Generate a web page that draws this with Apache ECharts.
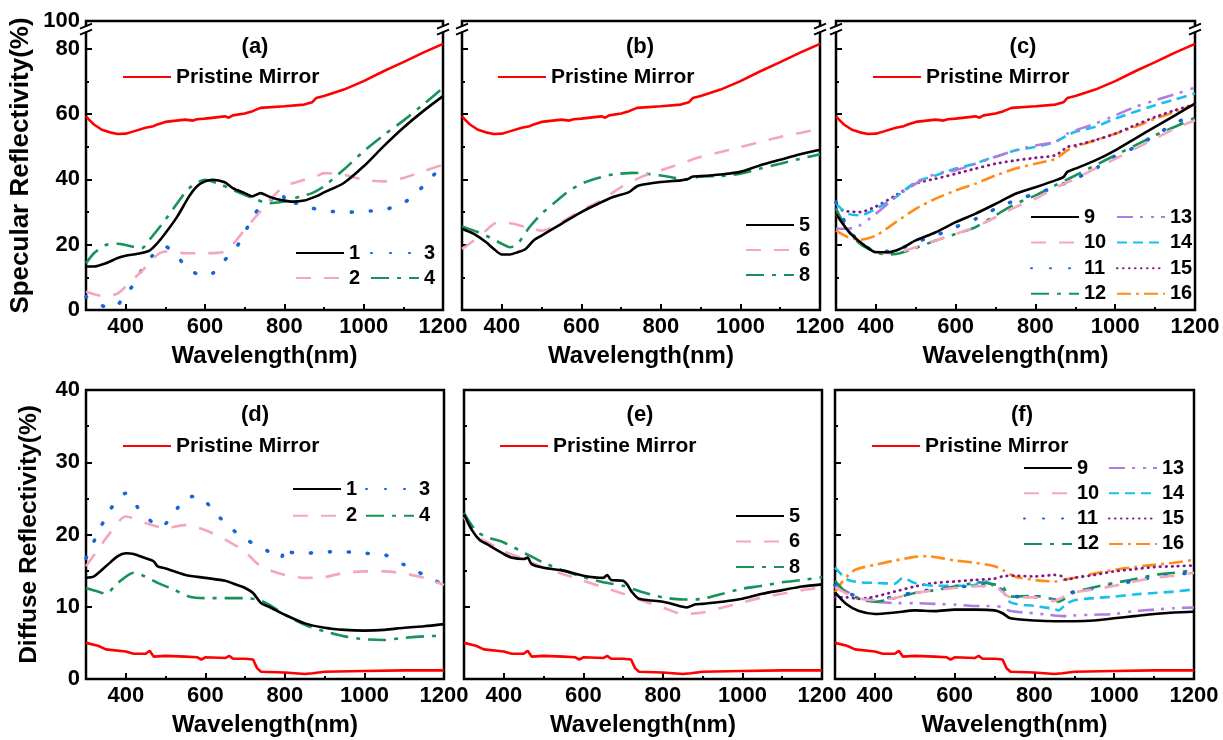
<!DOCTYPE html>
<html><head><meta charset="utf-8">
<script src="https://cdn.jsdelivr.net/npm/echarts@6/dist/echarts.min.js"></script>
<style>html,body{margin:0;padding:0;background:#fff}#c{width:1223px;height:740px}</style>
</head><body><div id="c"></div><script>
// ---------- DATA (wavelength nm, reflectivity %) ----------
const XTICKS = [400, 600, 800, 1000, 1200];
const XMINOR = [500, 700, 900, 1100];

const PS = [[300,59.3],[310,58.0],[320,56.8],[340,55.2],[360,54.4],[380,53.9],[400,54.0],[420,54.7],[450,55.8],[470,56.3],[480,56.8],[500,57.6],[550,58.3],[570,58.0],[580,58.4],[600,58.6],[650,59.3],[660,58.9],[670,59.6],[700,60.2],[720,60.9],[740,61.9],[800,62.4],[850,62.9],[870,63.6],[880,64.9],[900,65.5],[950,67.5],[1000,70.1],[1050,73.1],[1100,75.9],[1150,78.8],[1200,81.5]];
const PD = [[300,5.0],[330,4.6],[350,4.1],[400,3.8],[420,3.5],[450,3.5],[460,3.9],[470,3.1],[500,3.2],[550,3.1],[580,3.0],[590,2.7],[600,3.0],[650,2.9],[660,3.2],[670,2.8],[700,2.8],[720,2.7],[730,1.5],[740,1.0],[800,0.9],[850,0.7],[870,0.8],[900,1.0],[1000,1.1],[1100,1.2],[1200,1.2]];

const A1 = [[300,13.3],[320,13.3],[350,14.3],[380,15.9],[400,16.6],[430,17.2],[460,18.2],[480,20.5],[500,23.5],[530,28.6],[560,34.8],[580,37.9],[600,39.4],[620,39.9],[650,39.1],[670,37.3],[700,35.8],[720,34.8],[740,35.8],[760,34.8],[780,34.0],[800,33.5],[820,33.2],[850,33.5],[880,34.8],[900,36.0],[950,38.9],[1000,44.0],[1050,50.1],[1100,55.8],[1150,60.9],[1200,65.5]];
const A2 = [[300,5.6],[350,4.1],[380,5.1],[400,7.2],[430,10.7],[460,14.3],[480,16.9],[500,17.9],[550,17.4],[600,17.4],[650,17.9],[680,21.5],[700,24.6],[750,31.7],[780,35.8],[800,37.9],[850,39.9],[880,40.9],[900,41.9],[950,41.4],[1000,39.9],[1050,39.4],[1100,40.4],[1150,42.5],[1200,44.5]];
const A3 = [[300,4.1],[330,2.0],[360,0.5],[380,1.5],[400,5.1],[420,7.7],[450,14.3],[470,16.9],[500,19.4],[530,16.4],[560,12.3],[600,10.4],[620,11.3],[650,15.3],[680,19.4],[700,23.5],[720,28.6],[750,32.7],[780,34.8],[790,36.3],[800,34.3],[810,31.7],[830,32.7],[850,32.2],[870,31.2],[900,30.5],[950,29.9],[1000,30.2],[1050,30.7],[1100,32.7],[1150,37.9],[1200,44.5]];
const A4 = [[300,14.3],[320,17.4],[350,19.9],[380,20.3],[400,19.9],[440,18.9],[460,21.5],[500,27.6],[530,32.7],[560,37.3],[600,39.9],[640,38.4],[680,36.3],[720,34.3],[760,32.7],[800,33.2],[840,34.8],[870,35.8],[900,37.9],[950,43.0],[1000,48.6],[1050,53.5],[1100,58.0],[1150,62.9],[1200,68.0]];

const B5 = [[300,24.9],[330,23.3],[360,20.8],[380,18.7],[400,17.0],[420,17.0],[440,17.7],[460,18.7],[480,21.3],[500,22.8],[550,26.4],[600,30.0],[650,33.0],[680,34.6],[720,36.1],[740,37.9],[760,38.5],[800,39.2],[850,39.7],[870,40.2],[880,40.9],[900,41.0],[950,41.5],[1000,42.3],[1050,44.3],[1100,46.0],[1150,47.7],[1200,49.1]];
const B6 = [[300,18.7],[330,21.3],[360,24.3],[380,26.4],[400,26.9],[430,26.4],[460,25.4],[500,24.3],[550,26.9],[600,30.5],[650,33.6],[700,37.6],[750,40.7],[800,42.8],[850,44.8],[900,46.9],[950,48.4],[1000,49.9],[1050,51.5],[1100,53.0],[1150,54.2],[1200,55.6]];
const B8 = [[300,25.6],[330,24.3],[360,22.8],[400,20.3],[420,19.2],[440,20.3],[470,25.4],[500,29.5],[540,33.6],[570,36.6],[605,38.9],[650,40.7],[680,41.5],[730,42.0],[800,41.2],[865,40.0],[900,40.9],[950,41.0],[1000,41.7],[1050,43.3],[1100,44.8],[1150,46.3],[1200,47.7]];

const C9  = [[300,29.5],[330,24.3],[360,20.8],[390,18.2],[400,17.7],[430,17.7],[460,18.7],[500,21.3],[550,23.8],[600,26.9],[650,29.5],[700,32.5],[750,35.6],[800,37.6],[850,39.7],[870,40.7],[880,42.3],[900,43.3],[950,45.8],[1000,48.9],[1050,52.5],[1100,56.1],[1150,59.6],[1200,63.2]];
const C10 = [[300,29.5],[330,24.3],[360,20.8],[400,18.0],[430,17.4],[460,17.7],[500,19.2],[550,21.3],[600,23.3],[650,25.4],[700,28.4],[750,31.5],[800,34.1],[850,37.4],[900,40.2],[950,43.3],[1000,46.3],[1050,49.4],[1100,52.5],[1150,55.6],[1200,58.1]];
const C11 = [[300,33.0],[330,25.0],[360,20.8],[400,18.0],[430,18.0],[460,18.7],[500,20.8],[550,22.8],[600,25.4],[650,27.9],[700,31.0],[750,33.6],[800,35.6],[850,37.6],[900,40.2],[950,43.3],[1000,46.9],[1050,49.9],[1100,53.5],[1150,57.1],[1200,60.2]];
const C12 = [[300,31.0],[330,24.3],[360,20.3],[400,17.7],[430,17.0],[460,17.4],[500,19.0],[550,21.3],[600,23.3],[650,25.4],[700,29.0],[750,32.5],[800,35.1],[850,38.2],[900,41.2],[950,44.3],[1000,47.4],[1050,50.4],[1100,53.5],[1150,56.1],[1200,58.9]];
const C13 = [[300,24.9],[330,24.9],[360,25.9],[400,29.5],[450,34.6],[500,38.7],[550,41.7],[600,42.8],[650,44.8],[700,46.9],[750,48.9],[800,50.4],[850,51.5],[880,54.0],[900,55.0],[950,57.1],[1000,59.6],[1050,62.2],[1100,64.2],[1150,66.1],[1200,68.1]];
const C14 = [[300,32.5],[330,29.5],[360,29.0],[400,31.0],[450,34.6],[500,39.2],[550,41.2],[600,43.3],[650,44.8],[670,45.8],[700,46.9],[750,48.9],[800,49.9],[850,51.5],[880,53.5],[900,54.6],[950,56.1],[1000,58.6],[1050,60.7],[1100,62.7],[1150,64.5],[1200,66.3]];
const C15 = [[300,31.0],[330,30.2],[360,30.0],[400,31.7],[450,35.1],[500,38.7],[550,40.2],[600,41.7],[650,43.3],[700,44.8],[750,45.8],[800,46.6],[850,47.4],[880,49.9],[900,50.4],[950,52.0],[1000,54.0],[1050,56.6],[1100,59.1],[1150,61.2],[1200,63.0]];
const C16 = [[300,24.3],[330,22.3],[360,21.5],[400,22.8],[450,26.9],[500,31.0],[550,34.1],[600,36.6],[650,38.7],[700,41.2],[750,43.3],[800,44.8],[850,46.3],[880,48.9],[900,49.9],[950,52.0],[1000,54.0],[1050,56.1],[1100,58.6],[1150,60.7],[1200,63.0]];

const D1 = [[300,14.0],[320,14.2],[350,15.6],[380,17.0],[400,17.4],[420,17.3],[450,16.7],[470,16.3],[480,15.6],[500,15.3],[550,14.4],[600,14.0],[650,13.6],[680,13.0],[700,12.6],[720,11.9],[740,10.5],[760,10.0],[800,8.9],[850,7.7],[900,7.1],[950,6.8],[1000,6.7],[1050,6.8],[1100,7.1],[1150,7.3],[1200,7.6]];
const D2 = [[300,15.6],[330,17.9],[360,20.2],[400,22.5],[450,21.6],[500,20.9],[550,21.3],[600,20.6],[650,19.3],[700,17.6],[730,16.0],[760,15.1],[800,14.4],[850,14.0],[900,14.1],[950,14.7],[1000,14.9],[1050,14.9],[1100,14.6],[1150,14.0],[1200,13.0]];
const D3 = [[300,16.7],[330,20.2],[360,23.4],[400,25.7],[420,24.6],[440,22.9],[470,21.6],[490,21.1],[520,22.9],[550,25.0],[580,25.3],[600,24.6],[630,22.7],[660,21.1],[700,19.3],[730,18.6],[760,17.6],[790,16.7],[800,18.3],[810,17.6],[850,17.4],[900,17.6],[950,17.6],[1000,17.4],[1050,17.2],[1100,15.8],[1150,14.4],[1200,13.0]];
const D4 = [[300,12.6],[330,12.1],[350,11.8],[380,13.3],[420,14.7],[440,14.4],[480,13.3],[520,12.4],[560,11.4],[600,11.2],[650,11.2],[700,11.2],[730,11.0],[760,10.3],[800,8.9],[850,7.5],[900,6.6],[950,5.9],[1000,5.5],[1050,5.4],[1100,5.7],[1150,5.9],[1200,6.0]];

const E5 = [[300,22.8],[320,20.6],[340,19.2],[360,18.6],[400,17.3],[420,16.8],[450,16.6],[460,16.8],[470,15.9],[500,15.4],[550,15.0],[600,14.3],[650,14.0],[660,14.4],[670,13.7],[700,13.6],[710,13.1],[720,12.2],[740,11.1],[800,10.7],[850,10.0],[860,9.9],[880,10.3],[900,10.4],[950,10.7],[1000,11.1],[1050,11.8],[1100,12.3],[1150,12.8],[1200,13.1]];
const E6 = [[300,22.4],[330,19.8],[360,18.9],[400,17.7],[450,16.6],[500,15.4],[550,14.5],[600,13.6],[650,12.7],[700,11.8],[750,10.8],[800,9.9],[850,9.0],[900,9.2],[950,9.9],[1000,10.6],[1050,11.3],[1100,11.8],[1150,12.3],[1200,12.7]];
const E8 = [[300,23.0],[330,20.5],[360,19.6],[400,18.9],[450,17.5],[500,16.1],[550,15.0],[600,14.1],[650,13.4],[700,12.9],[750,12.0],[800,11.3],[850,11.0],[900,11.1],[950,11.8],[1000,12.5],[1050,12.9],[1100,13.4],[1150,13.7],[1200,14.1]];

const F9  = [[300,12.0],[330,10.3],[360,9.4],[400,9.0],[450,9.2],[500,9.5],[550,9.4],[600,9.6],[650,9.6],[700,9.5],[720,9.1],[740,8.4],[800,8.1],[850,8.0],[900,8.0],[950,8.1],[1000,8.4],[1050,8.7],[1100,9.0],[1150,9.2],[1200,9.3]];
const F10 = [[300,12.7],[350,11.3],[400,10.9],[450,11.2],[500,11.9],[550,12.3],[600,12.6],[650,12.8],[700,12.9],[720,12.0],[740,11.3],[800,11.3],[850,10.8],[870,11.3],[900,12.0],[950,12.4],[1000,12.9],[1050,13.5],[1100,14.0],[1150,14.3],[1200,14.7]];
const F11 = [[300,13.0],[350,11.5],[400,11.0],[450,11.4],[500,12.0],[550,12.4],[600,12.7],[650,12.9],[700,13.0],[720,12.2],[740,11.4],[800,11.4],[850,10.9],[870,11.4],[900,12.1],[950,12.5],[1000,13.0],[1050,13.6],[1100,14.1],[1150,14.4],[1200,14.8]];
const F12 = [[300,13.6],[330,11.9],[360,11.2],[400,10.7],[450,11.2],[500,11.9],[550,12.3],[600,12.8],[650,13.3],[660,13.4],[700,13.1],[720,12.8],[740,11.4],[800,11.5],[850,11.0],[860,10.7],[900,12.0],[950,12.7],[1000,13.3],[1050,13.8],[1100,14.4],[1150,14.7],[1200,15.1]];
const F13 = [[300,12.7],[330,12.1],[360,11.0],[400,10.7],[450,10.5],[500,10.5],[550,10.4],[600,10.3],[650,10.1],[700,10.1],[720,9.9],[740,9.4],[800,9.1],[850,8.8],[880,8.7],[900,8.8],[950,8.9],[1000,9.0],[1050,9.4],[1100,9.6],[1150,9.8],[1200,9.9]];
const F14 = [[300,15.4],[330,13.8],[360,13.4],[400,13.3],[450,13.2],[470,14.0],[500,13.3],[550,12.9],[600,12.9],[650,13.0],[670,13.7],[700,12.8],[720,12.2],[740,10.6],[800,10.1],[850,9.7],[860,9.5],[880,10.4],[900,10.9],[950,11.2],[1000,11.4],[1050,11.7],[1100,11.9],[1150,12.1],[1200,12.4]];
const F15 = [[300,11.3],[330,11.3],[360,11.1],[400,11.4],[450,12.1],[500,12.8],[550,13.3],[600,13.5],[650,13.7],[700,13.9],[720,14.2],[750,14.3],[800,14.2],[850,14.4],[870,14.2],[880,13.7],[900,14.0],[950,14.4],[1000,14.9],[1050,15.2],[1100,15.5],[1150,15.6],[1200,15.7]];
const F16 = [[300,12.0],[320,13.6],[350,15.1],[400,15.8],[450,16.4],[500,16.9],[530,17.0],[560,16.8],[600,16.4],[650,16.1],[700,15.6],[720,15.1],[750,14.2],[800,13.7],[850,13.5],[880,13.8],[900,14.0],[950,14.6],[1000,15.1],[1050,15.5],[1100,15.8],[1150,16.1],[1200,16.5]];

// ---------- STYLES ----------
const FONT = '"Liberation Sans", Arial, sans-serif';
const PM = 'Pristine Mirror';
const BLACK = {color:'#000000', type:'solid', cap:'butt', w:2.6};
const PINK  = {color:'#f4a6be', type:[15,13], cap:'butt', w:2.6};
const BLUE  = {color:'#1766d8', type:[1,18], cap:'round', w:3.6};
const GREEN = {color:'#179258', type:[18,8,4,8], cap:'butt', w:2.6};
const STY = {
  'Pristine Mirror': {color:'#ff0000', type:'solid', cap:'butt', w:2.6},
  '1':BLACK,'5':BLACK,'9':BLACK,
  '2':PINK,'6':PINK,'10':PINK,
  '3':BLUE,'11':BLUE,
  '4':GREEN,'8':GREEN,'12':GREEN,
  '13':{color:'#b07ce0', type:[16,7,3,8,3,7], cap:'butt', w:2.6},
  '14':{color:'#1ac0ec', type:[10,6], cap:'butt', w:2.6},
  '15':{color:'#86148a', type:[0.5,5.5], cap:'round', w:2.8},
  '16':{color:'#ff8c1a', type:[14,5,3,5], cap:'butt', w:2.6}
};

const panels = [
  {box:[86,21,357,289], ymax:88.5, yint:20, ylab:true, yname:'Specular Reflectivity(%)', ysize:26, ygap:52, label:'(a)', lx:255, ly:47,
   series:[[PM,PS],['1',A1],['2',A2],['3',A3],['4',A4]],
   pm:[122,77], leg:[{names:['1','2'], x:295, y:253, gap:25},{names:['3','4'], x:370, y:253, gap:25}]},
  {box:[462,21,358,289], ymax:88.5, yint:20, ylab:false, label:'(b)', lx:640, ly:47,
   series:[[PM,PS],['5',B5],['6',B6],['8',B8]],
   pm:[497,77], leg:[{names:['5','6','8'], x:745, y:225, gap:25}]},
  {box:[836,21,359,289], ymax:88.5, yint:20, ylab:false, label:'(c)', lx:1023, ly:47,
   series:[[PM,PS],['9',C9],['10',C10],['11',C11],['12',C12],['13',C13],['14',C14],['15',C15],['16',C16]],
   pm:[872,77], leg:[{names:['9','10','11','12'], x:1030, y:217, gap:25.6},{names:['13','14','15','16'], x:1116, y:217, gap:25.6}]},
  {box:[86,390,358,289], ymax:40, yint:10, ylab:true, yname:'Diffuse Reflectivity(%)', ysize:24.5, ygap:44, label:'(d)', lx:255, ly:415,
   series:[[PM,PD],['1',D1],['2',D2],['3',D3],['4',D4]],
   pm:[122,446], leg:[{names:['1','2'], x:292, y:489, gap:26.7},{names:['3','4'], x:365, y:489, gap:26.7}]},
  {box:[464,390,358,289], ymax:40, yint:10, ylab:false, label:'(e)', lx:640, ly:415,
   series:[[PM,PD],['5',E5],['6',E6],['8',E8]],
   pm:[499,446], leg:[{names:['5','6','8'], x:735, y:516, gap:25.5}]},
  {box:[835,390,359,289], ymax:40, yint:10, ylab:false, label:'(f)', lx:1022, ly:415,
   series:[[PM,PD],['9',F9],['10',F10],['11',F11],['12',F12],['13',F13],['14',F14],['15',F15],['16',F16]],
   pm:[871,446], leg:[{names:['9','10','11','12'], x:1023, y:468, gap:25.3},{names:['13','14','15','16'], x:1108, y:468, gap:25.3}]}
];

const txt = (size) => ({fontFamily:FONT, fontWeight:'bold', fontSize:size, color:'#000'});
const grids=[], xAxes=[], yAxes=[], series=[], legends=[], graphics=[];
panels.forEach((p,i)=>{
  grids.push({left:p.box[0], top:p.box[1], width:p.box[2], height:p.box[3], show:true, borderColor:'#000', borderWidth:2.5, backgroundColor:'transparent'});
  xAxes.push({type:'value', gridIndex:i, min:300, max:1200, interval:100, position:'bottom',
    name:'Wavelength(nm)', nameLocation:'middle', nameGap:34, nameTextStyle:txt(24),
    axisLine:{show:false}, splitLine:{show:false},
    axisTick:{show:true, inside:true, length:6, lineStyle:{color:'#000', width:2}, customValues:XTICKS},
    axisLabel:Object.assign({show:true, margin:6, customValues:XTICKS, formatter:(v)=>String(v)}, txt(22))});
  xAxes.push({type:'value', gridIndex:i, min:300, max:1200, interval:100, position:'bottom',
    axisLine:{show:false}, splitLine:{show:false}, axisLabel:{show:false},
    axisTick:{show:true, inside:true, length:3, lineStyle:{color:'#000', width:2}, customValues:XMINOR}});
  yAxes.push({type:'value', gridIndex:i, min:0, max:p.ymax, interval:p.yint,
    name:p.yname||'', nameLocation:'middle', nameGap:p.ygap||40, nameRotate:90, nameTextStyle:txt(p.ysize||24),
    axisLine:{show:false}, splitLine:{show:false},
    axisTick:{show:true, inside:true, length:6, lineStyle:{color:'#000', width:2}},
    minorTick:{show:true, splitNumber:2, length:3, lineStyle:{color:'#000', width:2}},
    axisLabel:Object.assign({show:p.ylab, margin:6, showMaxLabel:true, showMinLabel:true,
      formatter:(v)=> (v>85 ? '100' : String(v))}, txt(22))});
  p.series.forEach(([name,data],k)=>{
    const s = STY[name];
    series.push({type:'line', name, xAxisIndex:2*i, yAxisIndex:i, data, symbol:'none', showSymbol:false,
      smooth: name===PM ? false : 0.25, z: name===PM ? 3 : 2 + (p.series.length-k)*0.01,
      lineStyle:{color:s.color, width:s.w, type:s.type, cap:s.cap}, itemStyle:{color:s.color},
      emphasis:{disabled:true}, animation:false});
  });
  legends.push({data:[PM], orient:'vertical', left:p.pm[0], top:p.pm[1]-11, itemWidth:48, itemHeight:12, padding:0,
    selectedMode:false, itemStyle:{opacity:0}, textStyle:Object.assign({lineHeight:22}, txt(21))});
  p.leg.forEach(L=>{
    legends.push({data:L.names, orient:'vertical', left:L.x, top:L.y-10, itemWidth:48, itemHeight:12,
      itemGap:L.gap-20, padding:0, selectedMode:false, itemStyle:{opacity:0}, textStyle:Object.assign({lineHeight:20}, txt(20))});
  });
  graphics.push({type:'text', x:p.lx, y:p.ly, z:100, style:{text:p.label, fontFamily:FONT, fontWeight:'bold', fontSize:22, fill:'#000', textAlign:'center', textVerticalAlign:'middle'}});
});

const chart = echarts.init(document.getElementById('c'), null, {renderer:'canvas'});
chart.setOption({animation:false, backgroundColor:'#fff', grid:grids, xAxis:xAxes, yAxis:yAxes, series, legend:legends, graphic:graphics});

// axis-break marks on the top row spines
const breaks = [];
[0,1,2].forEach(i=>{
  [300,1200].forEach(xv=>{
    const [x,y] = chart.convertToPixel({gridIndex:i}, [xv, 86]);
    breaks.push({type:'rect', z:101, shape:{x:x-3, y:y-2.5, width:6, height:5}, style:{fill:'#fff'}});
    [-3,3].forEach(dy=>{
      breaks.push({type:'line', z:102, shape:{x1:x-6, y1:y+dy+2.5, x2:x+6, y2:y+dy-2.5}, style:{stroke:'#000', lineWidth:2}});
    });
  });
});
chart.setOption({graphic: graphics.concat(breaks)});
</script></body></html>
